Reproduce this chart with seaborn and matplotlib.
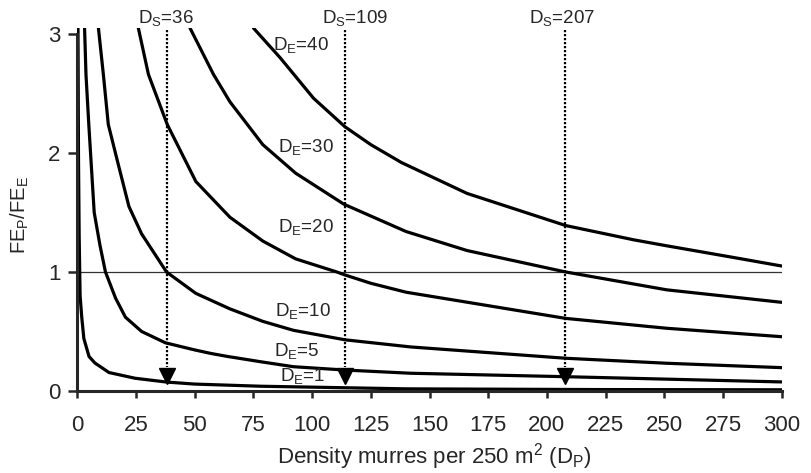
import numpy as np
import pandas as pd
import seaborn as sns
import matplotlib.pyplot as plt

# curves: D_P (x) and FE_P/FE_E (y) for each D_E
dp_1 = [0.3, 0.5, 0.8, 1.2, 1.9, 2.8, 5, 7.5, 13.5, 24.6, 38, 50, 78, 140, 220, 300]
fe_1 = [3.05, 2.0, 1.3, 0.8, 0.62, 0.44, 0.29, 0.235, 0.155, 0.107, 0.075, 0.058, 0.04, 0.018, 0.012, 0.01]
dp_5 = [3.1, 3.7, 4.9, 7.2, 9.7, 12, 16.3, 20.5, 27.4, 37.5, 50, 57, 64, 78, 92, 114, 142, 208, 300]
fe_5 = [3.05, 2.66, 2.24, 1.5, 1.22, 1.0, 0.78, 0.62, 0.50, 0.405, 0.345, 0.315, 0.29, 0.246, 0.204, 0.176,
        0.149, 0.12, 0.076]
dp_10 = [9, 11.1, 13.2, 17.5, 22, 27.4, 38, 50.5, 65, 79, 92, 114, 142, 208, 251, 300]
fe_10 = [3.05, 2.66, 2.24, 1.9, 1.55, 1.32, 1.0, 0.82, 0.69, 0.585, 0.51, 0.43, 0.37, 0.275, 0.233, 0.196]
dp_20 = [26, 30.3, 38.3, 50.5, 65, 79, 93, 110.5, 114, 125, 140, 208, 251, 300]
fe_20 = [3.05, 2.66, 2.24, 1.76, 1.46, 1.26, 1.11, 1.0, 0.975, 0.905, 0.83, 0.61, 0.527, 0.456]
dp_30 = [48, 58, 65, 79, 93, 113.5, 125, 140, 166, 208, 251, 300]
fe_30 = [3.05, 2.66, 2.43, 2.07, 1.83, 1.57, 1.47, 1.34, 1.18, 1.0, 0.85, 0.745]
dp_40 = [75, 86.4, 100.6, 114, 125, 138, 166, 208, 237, 251, 280, 300]
fe_40 = [3.05, 2.80, 2.46, 2.22, 2.07, 1.92, 1.66, 1.39, 1.27, 1.22, 1.12, 1.05]

de_values = [1, 5, 10, 20, 30, 40]
de_label_x = [86.4, 83.6, 84.2, 85.6, 85.6, 83.5]
de_label_y = [0.128, 0.338, 0.674, 1.38, 2.05, 2.91]

ds_values = [36, 109, 207]
ds_line_x = [38.3, 114.1, 207.8]
ds_text_x = [37.9, 118.3, 206.3]

xticks = list(range(0, 301, 25))
yticks = [0, 1, 2, 3]

curves = {1: (dp_1, fe_1), 5: (dp_5, fe_5), 10: (dp_10, fe_10),
          20: (dp_20, fe_20), 30: (dp_30, fe_30), 40: (dp_40, fe_40)}
df = pd.concat([pd.DataFrame({'dp': x, 'fe': y, 'de': k}) for k, (x, y) in curves.items()])

sns.set_style('ticks')
plt.rcParams['font.family'] = ['Liberation Sans', 'DejaVu Sans']

fig = plt.figure(figsize=(8.11, 4.73), dpi=100)
ax = fig.add_axes([0.0953, 0.1734, 0.8686, 0.7674])

sns.lineplot(data=df, x='dp', y='fe', hue='de', palette=['black'] * 6,
             linewidth=2.3, legend=False, sort=True, estimator=None, ax=ax)
for line in ax.lines:
    line.set_solid_joinstyle('round')

ax.axhline(1, xmin=0, xmax=1, color='#333333', linewidth=0.9, zorder=1)

for xs, val, tx in zip(ds_line_x, ds_values, ds_text_x):
    ax.plot([xs, xs], [3.03, 0.2], color='black', linewidth=1.6, linestyle=(0, (1, 0.8)))
    ax.plot([xs], [0.128], marker='v', markersize=12, color='black', clip_on=False)
    ax.text(tx, 3.13, 'D$\\mathregular{_S}$=%d' % val, ha='center', va='center', fontsize=13.5)

for de, lx, ly in zip(de_values, de_label_x, de_label_y):
    ax.text(lx, ly, 'D$\\mathregular{_E}$=%d' % de, ha='left', va='center', fontsize=13.5)

ax.set_xlim(0, 300)
ax.set_ylim(0, 3.05)
ax.set_xticks(xticks)
ax.set_yticks(yticks)
ax.spines['left'].set_bounds(0, 3)
sns.despine(ax=ax)
for s in ['left', 'bottom']:
    ax.spines[s].set_linewidth(2.2)
ax.tick_params(axis='x', length=5, width=1.8, pad=12.5, labelsize=16)
ax.tick_params(axis='y', length=6.5, width=1.8, pad=5.5, labelsize=16)

ax.set_xlabel('Density murres per 250 m$\\mathregular{^2}$ (D$\\mathregular{_P}$)', fontsize=16, va='baseline')
ax.xaxis.set_label_coords(0.5064, -0.199)
ax.set_ylabel('FE$\\mathregular{_P}$/FE$\\mathregular{_E}$', fontsize=14.5, va='center')
ax.yaxis.set_label_coords(-0.0813, 0.485)

fig.savefig('out.png', dpi=100)
